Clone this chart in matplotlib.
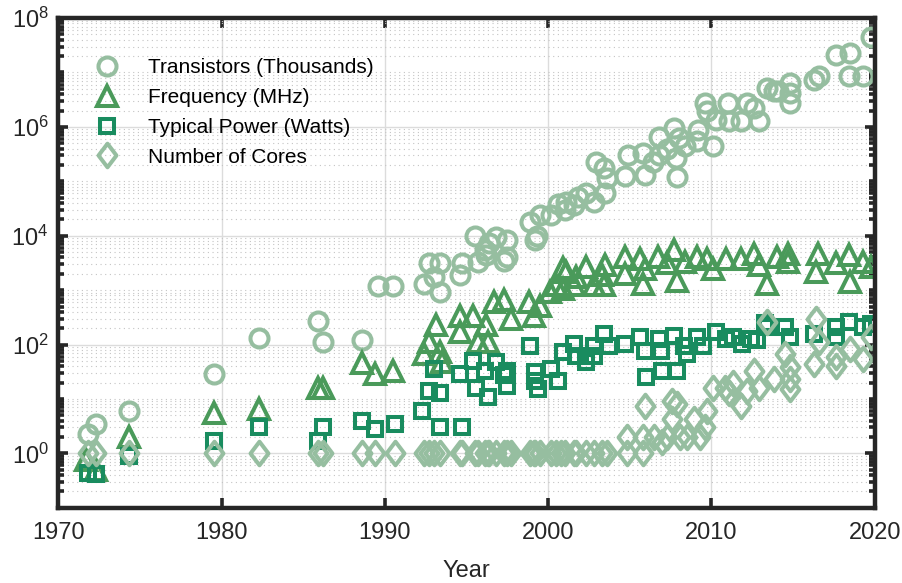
import matplotlib
matplotlib.use("Agg")
import matplotlib.pyplot as plt
from matplotlib.path import Path
from matplotlib.ticker import FixedLocator, FuncFormatter, LogLocator, NullFormatter
import numpy as np

plt.rcParams['font.family'] = ['Liberation Sans', 'DejaVu Sans']

# ---- data ----
tr_year = [1971.8, 1972.3, 1974.3, 1979.5, 1982.3, 1985.9, 1986.2, 1988.6, 1989.6, 1990.5,
           1992.4, 1992.7, 1993.0, 1993.4, 1993.4, 1994.6, 1994.7, 1995.5, 1995.7, 1996.1,
           1996.2, 1996.4, 1996.8, 1997.3, 1997.5, 1997.5, 1998.9, 1999.2, 1999.3, 1999.5,
           2000.2, 2000.6, 2001.0, 2001.1, 2001.6, 2001.8, 2002.3, 2002.8, 2002.9, 2003.4,
           2003.5, 2003.6, 2004.7, 2004.9, 2005.8, 2005.9, 2006.4, 2006.8, 2006.8, 2007.3,
           2007.7, 2007.8, 2007.9, 2008.0, 2008.4, 2009.1, 2009.2, 2009.6, 2009.7, 2010.1,
           2010.3, 2011.0, 2011.1, 2011.8, 2012.2, 2012.6, 2012.9, 2013.4, 2013.8, 2014.1,
           2014.8, 2014.8, 2014.8, 2016.3, 2016.6, 2017.6, 2018.4, 2018.5, 2019.3, 2019.8]
tr_val = [2.25, 3.5, 6, 29, 134, 275, 110, 120, 1200, 1200,
          1300, 3100, 1750, 3100, 920, 1870, 3100, 10000, 3300, 5500,
          4400, 7200, 9500, 3500, 8300, 4100, 18000, 8300, 10000, 24000,
          24000, 39000, 30000, 42000, 36000, 52000, 60000, 42000, 230000, 174000,
          60000, 115000, 123000, 310000, 330000, 130000, 230000, 310000, 660000, 400000,
          950000, 265000, 122000, 620000, 440000, 540000, 890000, 2750000, 2000000, 440000,
          1350000, 2700000, 1260000, 1260000, 2750000, 2200000, 1260000, 5200000, 4600000, 4600000,
          6400000, 4200000, 2750000, 7400000, 8500000, 21000000, 8500000, 23000000, 8500000, 44000000]

fq_year = [1971.7, 1972.3, 1974.3, 1979.5, 1982.3, 1985.9, 1986.2, 1988.6, 1989.4, 1990.5,
           1992.4, 1992.7, 1993.1, 1993.4, 1993.5, 1994.6, 1994.6, 1995.4, 1995.7, 1996.2,
           1996.3, 1996.7, 1997.3, 1997.7, 1998.8, 1999.1, 1999.5, 2000.1, 2000.5, 2000.9,
           2000.9, 2001.1, 2001.6, 2001.7, 2002.3, 2002.8, 2003.3, 2003.4, 2003.5, 2004.7,
           2004.7, 2005.6, 2005.8, 2005.9, 2006.7, 2007.3, 2007.7, 2007.9, 2008.4, 2009.1,
           2009.7, 2010.1, 2010.9, 2011.8, 2012.6, 2012.9, 2013.4, 2014.0, 2014.7, 2014.7,
           2016.5, 2016.4, 2017.6, 2018.4, 2018.5, 2019.3, 2019.8]
fq_val = [0.74, 0.5, 2, 5.6, 6.6, 16, 16, 45, 29, 33,
          67, 110, 224, 72, 47, 340, 170, 340, 110, 224,
          110, 600, 650, 300, 600, 340, 520, 920, 1230, 2500,
          1060, 2150, 1230, 1740, 2680, 1230, 1870, 1230, 2850, 4100,
          2000, 3800, 1300, 2460, 4000, 3100, 5400, 1500, 3300, 4000,
          3800, 2460, 3800, 3800, 4700, 2850, 1310, 4000, 3300, 4700,
          4700, 2150, 3100, 4400, 1400, 3300, 2700]

pw_year = [1971.8, 1972.3, 1974.3, 1979.5, 1982.3, 1985.9, 1986.2, 1988.6, 1989.4, 1990.6,
           1992.3, 1992.7, 1993.0, 1993.4, 1993.4, 1994.6, 1994.7, 1995.4, 1995.6, 1996.1,
           1996.3, 1996.8, 1997.3, 1997.5, 1997.5, 1998.9, 1999.2, 1999.2, 1999.4, 2000.2,
           2000.6, 2000.9, 2001.6, 2001.7, 2002.3, 2002.8, 2002.8, 2003.4, 2003.7, 2004.7,
           2005.6, 2005.9, 2006.0, 2006.8, 2006.9, 2007.0, 2007.9, 2007.7, 2008.3, 2008.5,
           2009.1, 2009.5, 2010.3, 2010.9, 2011.3, 2011.9, 2012.4, 2012.8, 2013.3, 2013.4,
           2014.5, 2014.8, 2016.3, 2017.6, 2017.6, 2018.4, 2019.3, 2019.8]
pw_val = [0.44, 0.41, 0.9, 1.7, 3, 1.7, 3, 4, 2.8, 3.4,
          6, 14, 35, 13, 3, 29, 3, 50, 16, 33,
          11, 47, 27, 33, 17, 95, 31, 21, 15, 35,
          21, 72, 102, 62, 47, 95, 62, 158, 95, 102,
          136, 77, 25, 126, 77, 33, 33, 145, 95, 67,
          136, 95, 170, 126, 136, 102, 126, 120, 250, 210,
          210, 136, 158, 210, 136, 255, 210, 240]

co_year = [1971.8, 1972.3, 1974.3, 1979.5, 1982.3, 1985.9, 1986.2, 1988.6, 1989.4, 1990.6,
           1992.4, 1992.7, 1993.0, 1993.4, 1994.6, 1994.7, 1995.5, 1995.7, 1996.1, 1996.3,
           1996.4, 1996.8, 1997.3, 1997.5, 1997.7, 1998.9, 1999.1, 1999.2, 1999.5, 2000.2,
           2000.5, 2000.8, 2001.0, 2001.6, 2001.7, 2002.3, 2002.8, 2003.3, 2003.6, 2004.8,
           2005.8, 2004.8, 2005.8, 2005.9, 2006.5, 2007.0, 2007.3, 2007.6, 2007.9, 2007.6,
           2008.1, 2008.5, 2008.9, 2009.3, 2009.6, 2009.7, 2010.1, 2010.8, 2011.1, 2011.3,
           2011.8, 2012.2, 2012.6, 2012.9, 2013.4, 2013.8, 2014.5, 2014.8, 2014.8, 2014.8,
           2016.3, 2016.4, 2016.6, 2017.6, 2017.6, 2018.5, 2019.3, 2019.8]
co_val = [1, 1, 1, 1, 1, 1, 1, 1, 1, 1,
          1, 1, 1, 1, 1, 1, 1, 1, 1, 1,
          1, 1, 1, 1, 1, 1, 1, 1, 1, 1,
          1, 1, 1, 1, 1, 1, 1, 1, 1, 1,
          1, 2, 2, 7.5, 2, 1.6, 2, 9.2, 8, 4.2,
          2, 2, 4.2, 2, 3, 6, 16, 16, 13, 20,
          7.5, 14, 33, 16, 260, 23, 67, 38, 23, 15,
          44, 300, 110, 58, 40, 83, 54, 136]

labels = ['Transistors (Thousands)', 'Frequency (MHz)', 'Typical Power (Watts)', 'Number of Cores']

c_light = '#96bea0'
c_freq = '#4a9a5a'
c_pow = '#198c5f'

diamond = Path([(0, -1), (0.76, 0), (0, 1), (-0.76, 0), (0, -1)],
               [Path.MOVETO, Path.LINETO, Path.LINETO, Path.LINETO, Path.CLOSEPOLY])

fig = plt.figure(figsize=(9.03, 5.83), dpi=100)
ax = fig.add_axes([0.0647, 0.129, 0.904, 0.840])

kw = dict(linestyle='none', mfc='none', mew=2.9)
ax.plot(tr_year, tr_val, marker='o', ms=13, mec=c_light, label=labels[0], **kw)
ax.plot(fq_year, fq_val, marker='^', ms=14.5, mec=c_freq, label=labels[1], **kw)
ax.plot(pw_year, pw_val, marker='s', ms=9.5, mec=c_pow, label=labels[2], **kw)
ax.plot(co_year, co_val, marker=diamond, ms=17, mec=c_light, label=labels[3], **kw)

ax.set_yscale('log')
ax.set_xlim(1970, 2020)
ax.set_ylim(0.1, 1e8)
ax.set_xticks(np.arange(1970, 2021, 10))
ax.yaxis.set_major_locator(FixedLocator([1, 1e2, 1e4, 1e6, 1e8]))
ax.yaxis.set_major_formatter(FuncFormatter(lambda v, p: r'$\mathregular{10^{%d}}$' % round(np.log10(v))))
ax.yaxis.set_minor_locator(LogLocator(base=10, subs=np.arange(1, 10), numticks=30))
ax.yaxis.set_minor_formatter(NullFormatter())

ax.grid(True, which='major', color='#dcdcdc', lw=1.0, ls='-')
ax.grid(True, which='minor', axis='y', color='#c4c4c4', lw=0.8, ls=(0, (1, 3.2)))
ax.set_axisbelow(True)

for s in ax.spines.values():
    s.set_linewidth(3.2)
    s.set_color('#262626')
ax.tick_params(which='both', direction='in', top=True, right=True, color='#262626',
               labelcolor='#262626', labelsize=17)
ax.tick_params(which='major', length=7, width=2.6)
ax.tick_params(which='minor', length=4, width=2.6)
ax.tick_params(axis='x', pad=10)
ax.tick_params(axis='y', pad=7)

ax.set_xlabel('Year', fontsize=17, color='#262626', labelpad=12)

ax.legend(loc='upper left', bbox_to_anchor=(0.024, 0.935), borderaxespad=0, frameon=False,
          fontsize=15, numpoints=1, handlelength=2.0, handletextpad=0.97, labelspacing=0.52)

fig.savefig('out.png', dpi=100)
